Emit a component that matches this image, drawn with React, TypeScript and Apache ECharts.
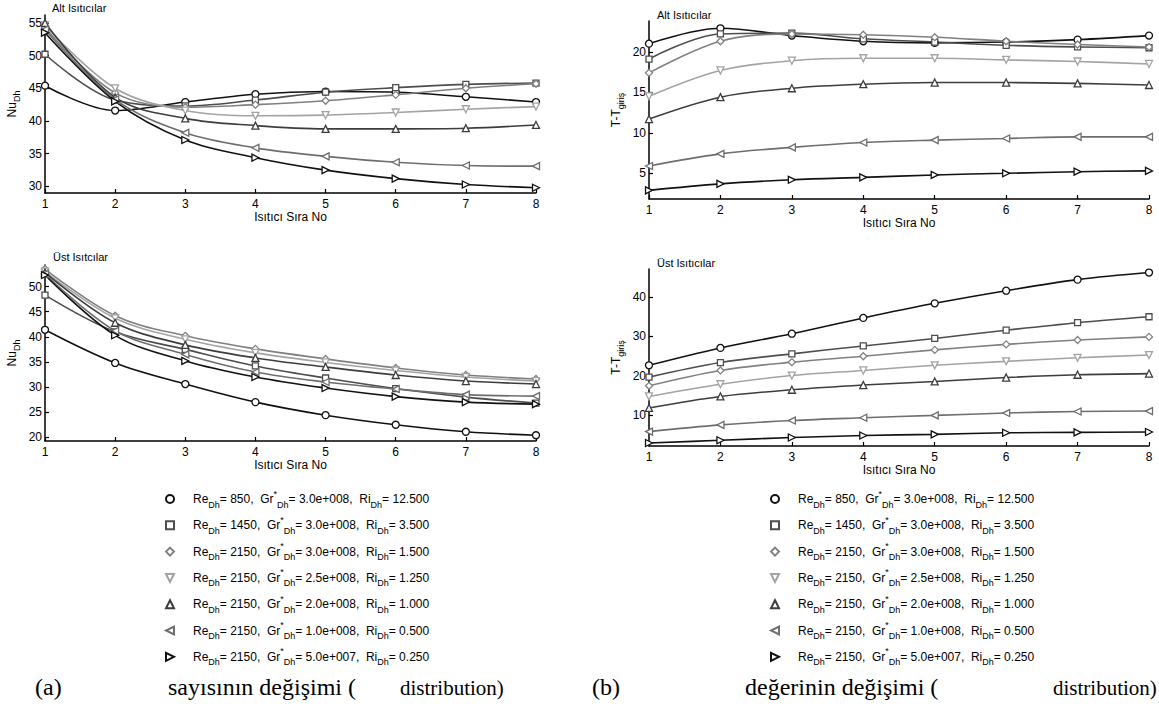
import React, { useEffect, useRef } from "react";
import * as echarts from "echarts";

const xs = [1, 2, 3, 4, 5, 6, 7, 8];

const reVals = ["850", "1450", "2150", "2150", "2150", "2150", "2150"];
const grVals = ["3.0e+008", "3.0e+008", "3.0e+008", "2.5e+008", "2.0e+008", "1.0e+008", "5.0e+007"];
const riVals = ["12.500", "3.500", "1.500", "1.250", "1.000", "0.500", "0.250"];

// Nu_Dh, Alt Isıtıcılar
const nuAlt = [
  [45.4, 41.6, 42.9, 44.1, 44.5, 44.4, 43.7, 42.9],
  [50.2, 43.2, 42.3, 43.2, 44.4, 45.1, 45.6, 45.8],
  [54.3, 44.3, 42.1, 42.5, 43.1, 44.0, 45.0, 45.7],
  [54.6, 45.0, 41.6, 40.8, 40.9, 41.3, 41.8, 42.2],
  [55.0, 43.6, 40.4, 39.3, 38.8, 38.8, 38.9, 39.4],
  [54.0, 43.3, 38.2, 35.9, 34.6, 33.7, 33.2, 33.1],
  [53.5, 43.0, 37.1, 34.4, 32.5, 31.2, 30.3, 29.8],
];
// T - T_giriş, Alt Isıtıcılar
const tAlt = [
  [21.0, 22.9, 22.0, 21.3, 21.1, 21.2, 21.5, 22.0],
  [19.1, 22.2, 22.3, 21.6, 21.2, 20.8, 20.6, 20.5],
  [17.4, 21.3, 22.2, 22.1, 21.8, 21.3, 20.9, 20.6],
  [14.5, 17.7, 18.9, 19.2, 19.2, 19.0, 18.8, 18.5],
  [11.7, 14.4, 15.5, 16.0, 16.2, 16.2, 16.1, 15.9],
  [5.9, 7.4, 8.2, 8.8, 9.1, 9.3, 9.5, 9.5],
  [2.9, 3.7, 4.2, 4.5, 4.8, 5.0, 5.2, 5.3],
];
// Nu_Dh, Üst Isıtıcılar
const nuUst = [
  [41.4, 34.8, 30.6, 27.0, 24.4, 22.5, 21.1, 20.4],
  [48.3, 41.0, 37.5, 34.2, 31.8, 29.7, 28.0, 26.8],
  [53.5, 44.2, 40.2, 37.6, 35.6, 33.8, 32.4, 31.6],
  [53.0, 43.7, 39.5, 36.8, 34.9, 33.3, 32.0, 31.2],
  [52.8, 42.8, 38.4, 35.8, 34.0, 32.4, 31.2, 30.6],
  [52.5, 41.2, 36.5, 33.0, 31.0, 29.6, 28.5, 28.2],
  [52.3, 40.3, 35.2, 32.0, 29.8, 28.1, 27.0, 26.6],
];
// T - T_giriş, Üst Isıtıcılar
const tUst = [
  [22.7, 27.1, 30.7, 34.7, 38.4, 41.6, 44.4, 46.2],
  [19.7, 23.4, 25.6, 27.6, 29.5, 31.6, 33.5, 35.0],
  [17.5, 21.4, 23.5, 25.0, 26.6, 28.0, 29.1, 29.9],
  [14.8, 17.9, 20.1, 21.4, 22.7, 23.7, 24.6, 25.3],
  [11.9, 14.8, 16.5, 17.7, 18.6, 19.6, 20.3, 20.6],
  [5.9, 7.6, 8.7, 9.4, 10.0, 10.6, 11.0, 11.1],
  [3.0, 3.7, 4.4, 4.9, 5.2, 5.6, 5.7, 5.8],
];

const panelTitles = ["Alt Isıtıcılar", "Alt Isıtıcılar", "Üst Isıtcılar", "Üst Isıtıcılar"];
const xTicks = [1, 2, 3, 4, 5, 6, 7, 8];
const yTicksList = [
  [30, 35, 40, 45, 50, 55],
  [5, 10, 15, 20],
  [20, 25, 30, 35, 40, 45, 50],
  [10, 20, 30, 40],
];
const yNames = ["Nu{s|Dh}", "T-T{s|giriş}", "Nu{s|Dh}", "T-T{s|giriş}"];
const xName = "Isıtıcı Sıra No";

const colors = ["#111111", "#4d4d4d", "#808080", "#a3a3a3", "#3d3d3d", "#6e6e6e", "#111111"];
const symbols = [
  "path://M5,0A5,5 0 1,1 5,10A5,5 0 1,1 5,0Z",
  "path://M0,0L10,0L10,10L0,10Z",
  "path://M5,0L10,5L5,10L0,5Z",
  "path://M0,0L10,0L5,10Z",
  "path://M5,0L10,10L0,10Z",
  "path://M10,0L10,10L0,5Z",
  "path://M0,0L10,5L0,10Z",
];
const symbolSizes = [7, 6, 7, 7, 7, 7, 7];

const FONT = "Liberation Sans, Arial, sans-serif";
const SERIF = "Liberation Serif, Times New Roman, serif";

export default function App() {
  const ref = useRef<HTMLDivElement>(null);
  useEffect(() => {
    if (!ref.current) return;
    const chart = echarts.init(ref.current, undefined, { renderer: "svg" });
    const names = reVals.map((r, k) => `Re=${r}, Gr=${grVals[k]}, Ri=${riVals[k]}`);
    const panels = [nuAlt, tAlt, nuUst, tUst];
    const grids = [
      { left: 45, top: 15, width: 491, height: 178 },
      { left: 649, top: 21, width: 500, height: 178 },
      { left: 45, top: 265, width: 491, height: 176 },
      { left: 649, top: 269, width: 500, height: 177 },
    ];
    const yRanges = [
      [29.0, 56.2],
      [1.83, 23.8],
      [19.26, 54.3],
      [2.25, 47.1],
    ];
    const axisLineStyle = { color: "#000", width: 1.5 };
    const xAxis = grids.map((_, g) => ({
      type: "value",
      gridIndex: g,
      min: 1,
      max: 8,
      interval: 1,
      name: xName,
      nameLocation: "middle",
      nameGap: 18,
      nameTextStyle: { fontFamily: FONT, fontSize: 12, color: "#000", verticalAlign: "top" },
      axisLine: { show: true, lineStyle: axisLineStyle },
      axisTick: { show: true, inside: true, length: 4, lineStyle: { color: "#000", width: 1.2 }, customValues: xTicks },
      axisLabel: { fontFamily: FONT, fontSize: 12, color: "#000", margin: 5, customValues: xTicks },
      splitLine: { show: false },
    }));
    const yAxis = grids.map((_, g) => ({
      type: "value",
      gridIndex: g,
      min: yRanges[g][0],
      max: yRanges[g][1],
      name: yNames[g],
      nameLocation: "middle",
      nameRotate: 90,
      nameGap: 24,
      nameTextStyle: {
        fontFamily: FONT,
        fontSize: 12,
        color: "#000",
        rich: { s: { fontFamily: FONT, fontSize: 9, color: "#000", verticalAlign: "bottom", lineHeight: 19 } },
      },
      axisLine: { show: true, lineStyle: axisLineStyle },
      axisTick: { show: true, inside: true, length: 4, lineStyle: { color: "#000", width: 1.2 }, customValues: yTicksList[g] },
      axisLabel: { fontFamily: FONT, fontSize: 12, color: "#000", margin: 3, customValues: yTicksList[g] },
      splitLine: { show: false },
    }));
    const series: any[] = [];
    panels.forEach((panel, g) => {
      panel.forEach((vals, k) => {
        series.push({
          type: "line",
          name: names[k],
          xAxisIndex: g,
          yAxisIndex: g,
          data: xs.map((x, i) => [x, vals[i]]),
          smooth: 0.35,
          symbol: symbols[k],
          symbolSize: symbolSizes[k],
          showAllSymbol: true,
          lineStyle: { color: colors[k], width: 1.6 },
          itemStyle: { color: "#fff", borderColor: colors[k], borderWidth: 1.3 },
          emphasis: { disabled: true },
        });
      });
    });
    const legendFormatter = (name: string) => {
      const k = names.indexOf(name);
      return `Re{s|Dh}= ${reVals[k]},  Gr{st|*}{s|Dh}= ${grVals[k]},  Ri{s|Dh}= ${riVals[k]}`;
    };
    const legendBase = (left: number) => ({
      orient: "vertical",
      left,
      top: 489,
      itemWidth: 36,
      itemHeight: 8,
      itemGap: 6.3,
      selectedMode: false,
      padding: 0,
      symbolKeepAspect: true,
      data: names.map((n, k) => ({ name: n, icon: symbols[k] })),
      formatter: legendFormatter,
      textStyle: {
        fontFamily: FONT,
        fontSize: 12,
        color: "#000",
        lineHeight: 20,
        rich: {
          s: { fontFamily: FONT, fontSize: 9, color: "#000", verticalAlign: "bottom", lineHeight: 20 },
          st: { fontFamily: FONT, fontSize: 9, color: "#000", verticalAlign: "top", lineHeight: 20 },
        },
      },
    });
    const titleStyle = { fontFamily: FONT, fontSize: 11, fontWeight: "normal", color: "#000" };
    const titlePos = [
      [52, 2],
      [657, 9],
      [53, 251],
      [657, 257],
    ];
    const captionStyle = (size: number) => ({ fontFamily: SERIF, fontSize: size, fill: "#000" });
    chart.setOption({
      animation: false,
      backgroundColor: "#fff",
      title: panelTitles.map((t, i) => ({
        text: t,
        left: titlePos[i][0],
        top: titlePos[i][1],
        padding: 0,
        textStyle: titleStyle,
      })),
      grid: grids.map((g) => ({ ...g, containLabel: false, outerBoundsMode: "none" })),
      xAxis,
      yAxis,
      legend: [legendBase(165), legendBase(770)],
      series,
      graphic: [
        { type: "text", left: 35, top: 675, style: { text: "(a)", ...captionStyle(24) } },
        { type: "text", left: 168, top: 675, style: { text: "sayısının değişimi (", ...captionStyle(24) } },
        { type: "text", left: 400, top: 677, style: { text: "distribution)", ...captionStyle(21) } },
        { type: "text", left: 592, top: 675, style: { text: "(b)", ...captionStyle(24) } },
        { type: "text", left: 745, top: 675, style: { text: "değerinin değişimi (", ...captionStyle(24) } },
        { type: "text", left: 1053, top: 677, style: { text: "distribution)", ...captionStyle(21) } },
      ],
    });
    return () => chart.dispose();
  }, []);
  return (
    <div style={{ position: "fixed", left: 0, top: 0, width: 1159, height: 711, background: "#fff" }}>
      <div ref={ref} style={{ width: 1159, height: 711 }} />
    </div>
  );
}
